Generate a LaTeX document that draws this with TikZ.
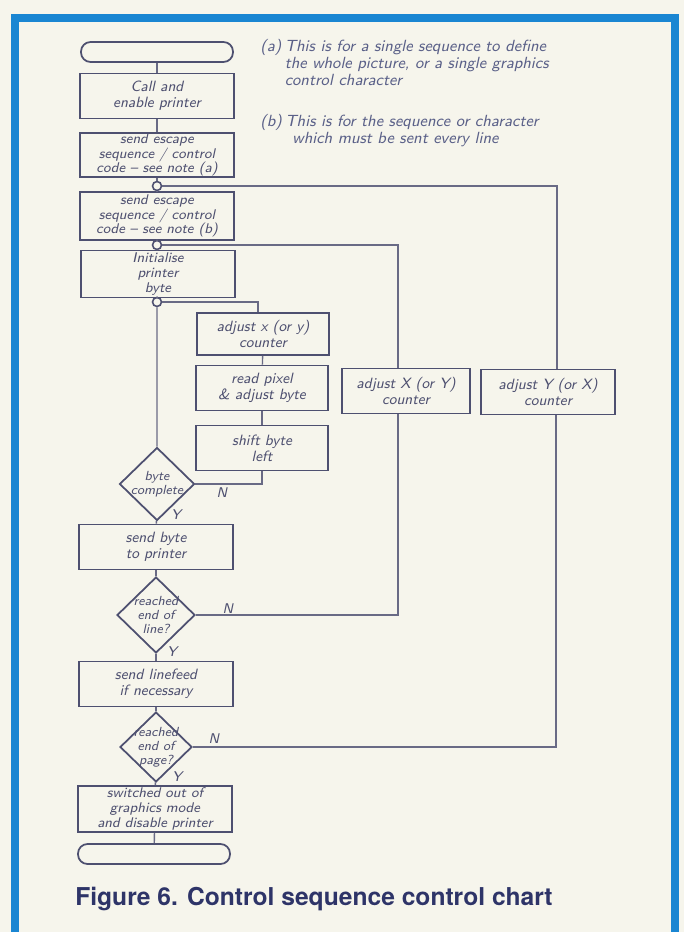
\documentclass[tikz,border=0pt]{standalone}
\usepackage{fontspec}
\newfontfamily\capfont{TeX Gyre Heros}
\usepackage{xcolor}
\definecolor{paper}{HTML}{F6F5EC}
\definecolor{frameblue}{HTML}{1A86D2}
\definecolor{ink}{HTML}{4E5070}
\definecolor{pencil}{HTML}{5A6088}
\definecolor{captionblue}{HTML}{2E3468}
\usetikzlibrary{shapes.geometric,calc}

\begin{document}
\begin{tikzpicture}[x=0.02cm,y=-0.02cm,
  stepbox/.style={draw=ink,line width=1pt,minimum width=3.08cm,minimum height=0.9cm,
                  inner sep=0.5pt,font=\fontsize{8.5}{9}\selectfont\sffamily\itshape,
                  text=ink,align=center},
  smallbox/.style={stepbox,minimum width=2.64cm},
  terminal/.style={draw=ink,line width=1pt,rounded corners=0.19cm,
                   minimum width=3.04cm,minimum height=0.4cm},
  decision/.style={diamond,draw=ink,line width=1pt,aspect=1,inner sep=-3pt,
                   minimum width=1.5cm,minimum height=1.46cm,
                   font=\fontsize{7.5}{8}\selectfont\sffamily\itshape,text=ink,align=center},
  joint/.style={circle,draw=ink,line width=0.9pt,fill=paper,minimum size=0.18cm,inner sep=0pt},
  wire/.style={draw=ink!85,line width=0.8pt},
  yn/.style={font=\fontsize{8}{8}\selectfont\sffamily\itshape,text=ink},
  note/.style={anchor=north west,font=\fontsize{9.2}{9.6}\selectfont\sffamily\itshape,
               text=pencil,inner sep=0pt}
]
\useasboundingbox (0,0) rectangle (684,932);
\fill[paper] (0,0) rectangle (684,932);
\draw[frameblue,line width=4.5pt] (15,945) -- (15,18) -- (675,18) -- (675,945);

% main column
\node[terminal] (start) at (157,52) {};
\node[stepbox] (call) at (157,96) {Call and\\enable printer};
\node[stepbox,minimum height=0.84cm,font=\fontsize{8}{8.4}\selectfont\sffamily\itshape] (escA) at (157,155)
  {send escape\\sequence / control\\code -- see note (a)};
\node[joint] (circA) at (157,186) {};
\node[stepbox,minimum height=0.96cm,font=\fontsize{8}{8.4}\selectfont\sffamily\itshape] (escB) at (157,216)
  {send escape\\sequence / control\\code -- see note (b)};
\node[joint] (circB) at (157,245) {};
\node[stepbox,minimum height=0.94cm,font=\fontsize{8}{8.4}\selectfont\sffamily\itshape] (init) at (158,274)
  {Initialise\\printer\\byte};
\node[joint] (circC) at (157,302) {};
\node[decision] (byte) at (157,484) {byte\\complete};
\node[stepbox] (sendbyte) at (156,547) {send byte\\to printer};
\node[decision,minimum width=1.56cm,minimum height=1.52cm] (eol) at (156,615) {reached\\end of\\line?};
\node[stepbox] (linefeed) at (156,684) {send linefeed\\if necessary};
\node[decision,minimum width=1.44cm,minimum height=1.4cm] (eop) at (156,747) {reached\\end of\\page?};
\node[stepbox,minimum height=0.92cm,font=\fontsize{8}{8.4}\selectfont\sffamily\itshape] (switched) at (155,809)
  {switched out of\\graphics mode\\and disable printer};
\node[terminal] (stop) at (154,854) {};

% inner loop
\node[smallbox,minimum height=0.84cm] (adjx) at (263,334) {adjust x (or y)\\counter};
\node[smallbox] (readpx) at (262,388) {read pixel\\\& adjust byte};
\node[smallbox] (shift) at (262,448) {shift byte\\left};

% outer loops
\node[stepbox,minimum width=2.56cm] (adjX) at (406,391) {adjust X (or Y)\\counter};
\node[stepbox,minimum width=2.68cm] (adjY) at (548,392) {adjust Y (or X)\\counter};

% notes
\node[note] (noteA) at (260,39) {\begin{tabular}{@{}l@{\hspace{2pt}}l@{}}
  (a) & This is for a single sequence to define\\
      & the whole picture, or a single graphics\\
      & control character\end{tabular}};
\node[note] (noteB) at (260,114) {\begin{tabular}{@{}l@{\hspace{2pt}}l@{}}
  (b) & This is for the sequence or character\\
      & \hspace{4pt}which must be sent every line\end{tabular}};

% flow lines
\draw[wire] (start) -- (call);
\draw[wire] (call) -- (escA);
\draw[wire] (escA) -- (circA) -- (escB);
\draw[wire] (escB) -- (circB) -- (init);
\draw[wire] (init) -- (circC) -- (byte);
\draw[wire] (byte) -- (sendbyte);
\draw[wire] (sendbyte) -- (eol);
\draw[wire] (eol) -- (linefeed);
\draw[wire] (linefeed) -- (eop);
\draw[wire] (eop) -- (switched);
\draw[wire] (switched) -- (stop);

\draw[wire] (circC.east) -| ($(adjx.north)+(-5,0)$);
\draw[wire] (adjx) -- (readpx);
\draw[wire] (readpx) -- (shift);
\draw[wire] (shift.south) |- (byte.east);

\draw[wire] (circB.east) -| ($(adjX.north)+(-8,0)$);
\draw[wire] ($(adjX.south)+(-8,0)$) |- (eol.east);
\draw[wire] (circA.east) -| ($(adjY.north)+(9,0)$);
\draw[wire] ($(adjY.south)+(8,0)$) |- (eop.east);

% branch labels
\node[yn] (byteN) at (222,493) {N};
\node[yn] (byteY) at (176,515) {Y};
\node[yn] (eolN) at (228,609) {N};
\node[yn] (eolY) at (172,652) {Y};
\node[yn] (eopN) at (214,739) {N};
\node[yn] (eopY) at (177,777) {Y};

% caption
\node[anchor=base west,inner sep=0pt,text=captionblue,font=\capfont\bfseries\fontsize{14}{16}\selectfont]
  (caption) at (75,905) {Figure 6. Control sequence control chart};
\end{tikzpicture}
\end{document}
